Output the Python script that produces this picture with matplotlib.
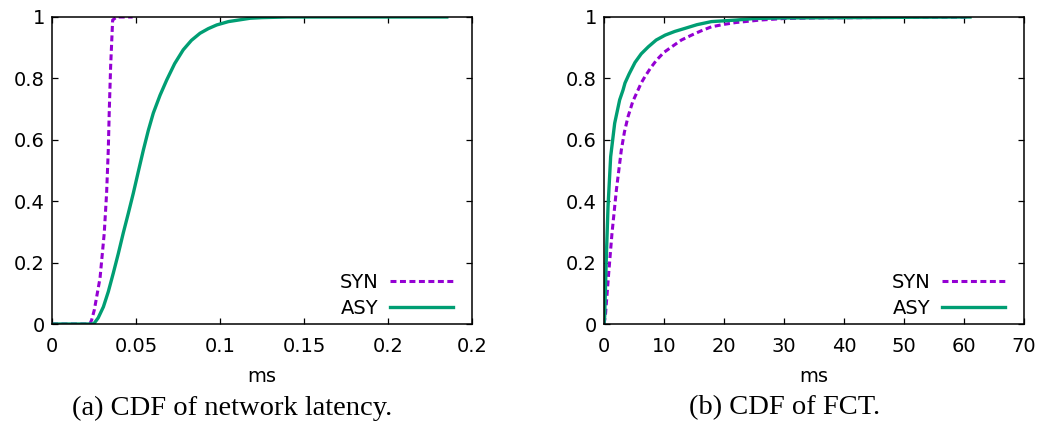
import numpy as np
import matplotlib
matplotlib.use("Agg")
from matplotlib import pyplot as plt

# (a) network latency CDF, ms
lat_syn_x = [0, 0.0225, 0.0236, 0.0252, 0.0286, 0.0311, 0.0325, 0.0335, 0.0341, 0.0349,
             0.0361, 0.0385, 0.048]
lat_syn_y = [0, 0, 0.013, 0.046, 0.15, 0.296, 0.426, 0.567, 0.697, 0.839, 0.99, 1.0, 1.0]
lat_asy_x = [0, 0.0245, 0.0252, 0.0275, 0.0306, 0.0335, 0.0365, 0.0395, 0.0424, 0.0454,
             0.0484, 0.0514, 0.0544, 0.0573, 0.0603, 0.0643, 0.0683, 0.073, 0.0781, 0.083,
             0.0881, 0.093, 0.098, 0.105, 0.118, 0.125, 0.14, 0.235]
lat_asy_y = [0, 0, 0.003, 0.02, 0.056, 0.105, 0.166, 0.23, 0.296, 0.36,
             0.426, 0.497, 0.567, 0.63, 0.687, 0.745, 0.795, 0.848, 0.893, 0.924,
             0.947, 0.962, 0.974, 0.985, 0.996, 0.998, 1.0, 1.0]

# (b) FCT CDF, ms
fct_syn_x = [0, 0.22, 0.78, 1.33, 2.06, 2.89, 3.4, 4.0, 4.8, 5.67, 6.2, 6.83, 7.8, 8.78,
             10, 11.3, 12.9, 14.6, 16.2, 17.9, 20, 22, 26, 30, 35, 61]
fct_syn_y = [0, 0.024, 0.165, 0.295, 0.436, 0.567, 0.625, 0.675, 0.725, 0.762, 0.785, 0.806,
             0.835, 0.86, 0.885, 0.903, 0.925, 0.941, 0.955, 0.968, 0.976, 0.982, 0.99,
             0.995, 0.997, 1.0]
fct_asy_x = [0, 0.11, 0.39, 0.67, 1.11, 1.78, 2.61, 3.17, 3.5, 4.2, 5.17, 6.2, 7.39, 8.7,
             10.2, 11.8, 13.5, 15.5, 17.9, 22, 25, 30, 61]
fct_asy_y = [0, 0.024, 0.219, 0.382, 0.545, 0.654, 0.73, 0.762, 0.785, 0.815, 0.852, 0.88,
             0.903, 0.925, 0.941, 0.953, 0.963, 0.975, 0.985, 0.99, 0.995, 0.997, 1.0]

lat_ticks = [0, 0.05, 0.1, 0.15, 0.2, 0.25]
lat_ticklabels = ['0', '0.05', '0.1', '0.15', '0.2', '0.2']
fct_ticks = [0, 10, 20, 30, 40, 50, 60, 70]
y_ticks = [0, 0.2, 0.4, 0.6, 0.8, 1]
y_ticklabels = ['0', '0.2', '0.4', '0.6', '0.8', '1']

PURPLE = '#9400d3'
GREEN = '#009e73'

plt.rcParams['font.family'] = ['DejaVu Sans']
plt.rcParams['font.size'] = 14

W, H = 1048, 436
fig = plt.figure(figsize=(W / 100, H / 100), dpi=100)

ax1 = fig.add_axes([52 / W, 1 - 324 / H, 420 / W, 307 / H])
ax2 = fig.add_axes([604 / W, 1 - 324 / H, 420 / W, 307 / H])


def style(ax, xmax, ticks, labels=None):
    ax.set_xlim(0, xmax)
    ax.set_ylim(0, 1)
    ax.set_xticks(ticks)
    if labels is not None:
        ax.set_xticklabels(labels)
    ax.set_yticks(y_ticks)
    ax.set_yticklabels(y_ticklabels)
    ax.tick_params(direction='in', length=4, width=0.9, top=True, right=True,
                   labelsize=14, color='black')
    ax.tick_params(axis='x', pad=9)
    ax.tick_params(axis='y', pad=5)
    for s in ax.spines.values():
        s.set_linewidth(1.1)
    ax.set_xlabel('ms', fontsize=14, labelpad=8.5)


def draw(ax, sx, sy, ax_x, ay):
    syn, = ax.plot(sx, sy, color=PURPLE, lw=2.2, label='SYN')
    syn.set_dashes([1.95, 1.15])
    ax.plot(ax_x, ay, color=GREEN, lw=2.4, label='ASY')
    ax.legend(loc='lower right', bbox_to_anchor=(0.955, 0.02), frameon=False,
              markerfirst=False, handlelength=3.25, handletextpad=0.6,
              labelspacing=0.35, borderpad=0, borderaxespad=0, fontsize=14)


draw(ax1, lat_syn_x, lat_syn_y, lat_asy_x, lat_asy_y)
style(ax1, 0.25, lat_ticks, lat_ticklabels)
draw(ax2, fct_syn_x, fct_syn_y, fct_asy_x, fct_asy_y)
style(ax2, 70, fct_ticks)

fig.text(232 / W, 1 - 408 / H, '(a) CDF of network latency.', ha='center', va='center',
         family='Liberation Serif', fontsize=20.5)
fig.text(785 / W, 1 - 408 / H, '(b) CDF of FCT.', ha='center', va='center',
         family='Liberation Serif', fontsize=20.5)

fig.savefig('out.png', dpi=100)
